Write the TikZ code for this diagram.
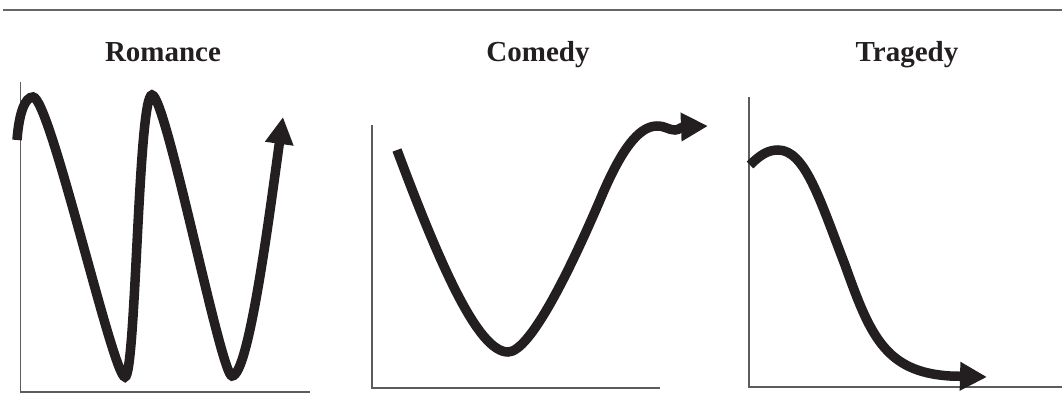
\documentclass[tikz,border=0pt]{standalone}
\usepackage{fontspec}
\setmainfont{Liberation Serif}
\usetikzlibrary{arrows.meta}
\definecolor{ink}{HTML}{231F20}
\definecolor{rule}{HTML}{666666}
\begin{document}
\begin{tikzpicture}[x=1pt,y=-1pt,
  axis/.style={draw=rule!90!black,line width=1.5pt},
  story/.style={draw=ink,line width=9.5pt},
  storyarrow/.style={story,-{Triangle[length=27pt,width=27pt]}},
  ttl/.style={font=\fontsize{29}{31}\selectfont\bfseries,text=ink,inner sep=0pt,anchor=base}]
\useasboundingbox (0,0) rectangle (1062,411);
% top rule
\draw[draw=rule,line width=2pt] (3,10) -- (1062,10);
% titles
\node[ttl] (tR) at (163,62) {Romance};
\node[ttl] (tC) at (538,62) {Comedy};
\node[ttl] (tT) at (907,62) {Tragedy};
% axes
\draw[axis] (20.5,82) -- (20.5,392) -- (310,392);
\draw[axis] (372,125) -- (372,388) -- (660,388);
\draw[axis] (749,97) -- (749,387) -- (1062,387);
% Romance
\draw[storyarrow] (17,140) .. controls (19,113) and (25,97) .. (33,97)
  .. controls (50,97) and (113,377) .. (125,377)
  .. controls (136,377) and (138,95) .. (152,95)
  .. controls (166,95) and (221,376) .. (232,376)
  .. controls (249,376) and (270,210) .. (283,117);
% Comedy
\draw[storyarrow] (397,150) .. controls (440,265) and (478,352) .. (508,352)
  .. controls (530,352) and (570,270) .. (600,200)
  .. controls (620,152) and (638,126) .. (657,126)
  .. controls (666,126) and (668,130) .. (675,130)
  .. controls (679,130) and (681,127) .. (708,126);
% Tragedy
\draw[storyarrow] (750,165) .. controls (760,155) and (768,150) .. (778,150)
  .. controls (805,150) and (820,200) .. (845,265)
  .. controls (870,335) and (885,372) .. (950,376)
  -- (987,377);
\end{tikzpicture}
\end{document}
